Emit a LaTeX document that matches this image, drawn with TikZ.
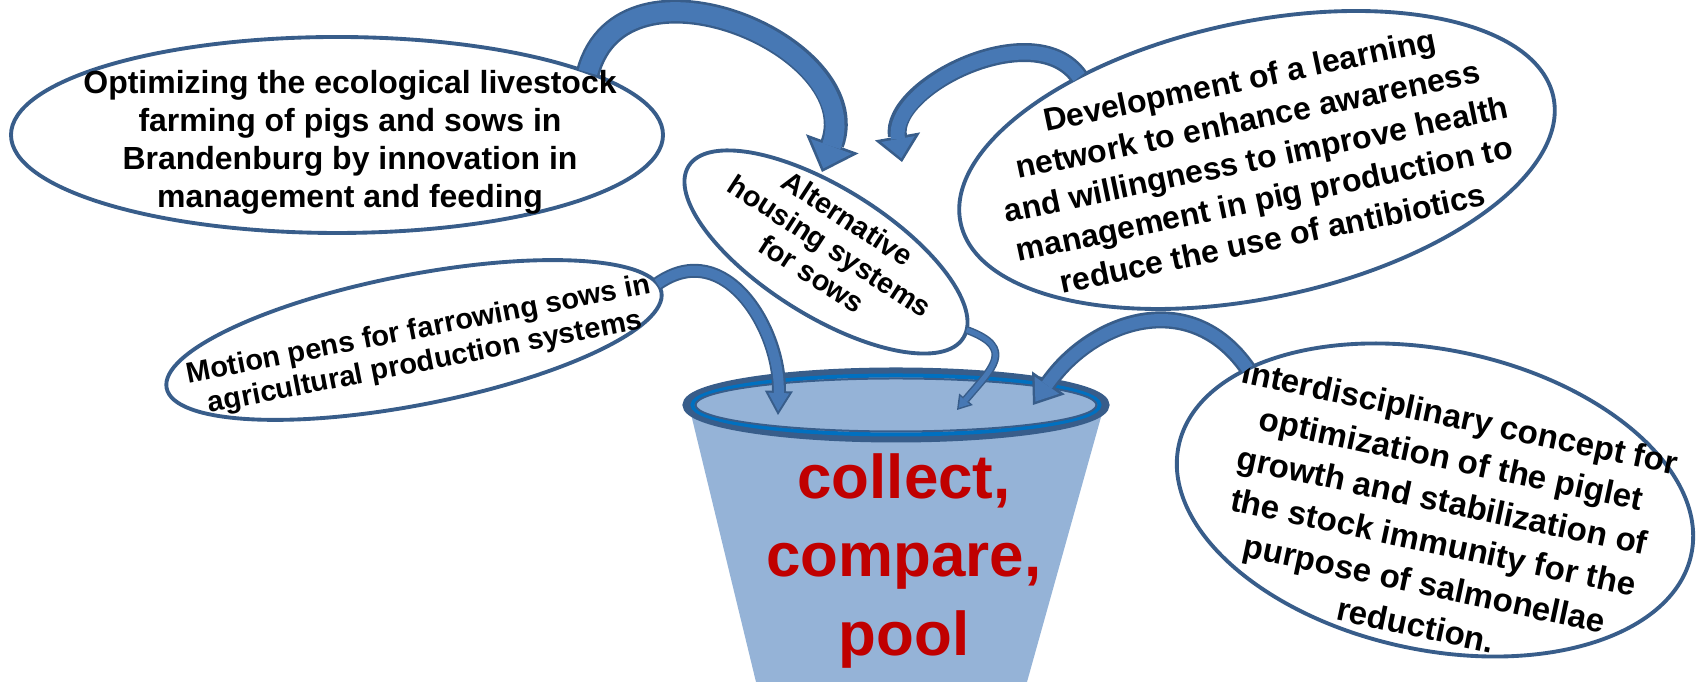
\documentclass[tikz,border=0pt]{standalone}
\usepackage{fontspec}
\setmainfont{Liberation Sans}
\usepackage{xcolor}
\usepackage{tikz}
\usetikzlibrary{shapes.geometric, arrows.meta}

\definecolor{lineblue}{HTML}{385D8A}
\definecolor{flowblue}{HTML}{4778B4}
\definecolor{bucketblue}{HTML}{95B3D7}
\definecolor{rimblue}{HTML}{0070C0}
\definecolor{poolred}{HTML}{C00000}

\tikzset{
  bubble/.style={ellipse, draw=lineblue, line width=1.1pt, fill=white, inner sep=0pt, outer sep=0pt},
  bubbletext/.style 2 args={align=center, inner sep=0pt, font=\bfseries\fontsize{#1}{#2}\selectfont},
  flowout/.style n args={3}{draw=lineblue, line width=#1, shorten >=0pt, -{Triangle[width=#2, length=#3, line width=0pt]}},
  flowin/.style n args={3}{draw=flowblue, line width=#1, shorten >=0.38mm, -{Triangle[width=#2, length=#3, line width=0pt]}}
}

\begin{document}
\begin{tikzpicture}
  \useasboundingbox (0,0) rectangle (16.96,6.82);

  % bucket
  \fill[bucketblue] (6.90,2.72) -- (11.03,2.72) -- (10.27,0) -- (7.56,0) -- cycle;
  \draw[lineblue, line width=0.08cm, fill=bucketblue] (8.96,2.77) ellipse (2.095 and 0.335);
  \draw[rimblue, line width=0.04cm] (8.96,2.77) ellipse (2.035 and 0.295);
  \draw[lineblue, line width=0.02cm] (8.96,2.77) ellipse (2.005 and 0.265);
  \node[text=poolred, align=center, inner sep=0pt, font=\bfseries\fontsize{17.6}{22.2}\selectfont] (pool) at (9.04,1.21) {collect,\\compare,\\pool};

  % bubbles
  \node[bubble, minimum width=6.52cm, minimum height=1.96cm] (optA) at (3.37,5.47) {};
  \node[bubbletext={9.1}{10.8}] (optAtext) at (3.50,5.40) {Optimizing the ecological livestock\\farming of pigs and sows in\\Brandenburg by innovation in\\management and feeding};

  \node[bubble, minimum width=3.24cm, minimum height=1.28cm, rotate=-32] (optB) at (8.26,4.30) {};
  \node[bubbletext={8.2}{9.4}, rotate=-33] (optBtext) at (8.30,4.36) {Alternative\\housing systems\\for sows};

  \node[bubble, minimum width=6.06cm, minimum height=2.76cm, rotate=12] (optC) at (12.57,5.22) {};
  \node[bubbletext={9.1}{11.5}, rotate=11.8] (optCtext) at (12.56,5.23) {Development of a learning\\network to enhance awareness\\and willingness to improve health\\management in pig production to\\reduce the use of antibiotics};

  \node[bubble, minimum width=5.04cm, minimum height=1.30cm, rotate=11] (optD) at (4.14,3.42) {};
  \node[bubbletext={8.25}{9.4}, rotate=11] (optDtext) at (4.22,3.35) {Motion pens for farrowing sows in\\agricultural production systems};

  \node[bubble, minimum width=5.24cm, minimum height=3.0cm, rotate=-12] (optE) at (14.35,1.82) {};
  \node[bubbletext={9.4}{12.1}, rotate=-12] (optEtext) at (14.38,1.61) {Interdisciplinary concept for\\optimization of the piglet\\growth and stabilization of\\the stock immunity for the\\purpose of salmonellae\\reduction.};

  % arrow tips
  \coordinate (tipA) at (8.22,5.10);
  \coordinate (tipC) at (9.02,5.20);
  \coordinate (tipD) at (7.78,2.67);
  \coordinate (tipB) at (9.57,2.72);
  \coordinate (tipE) at (10.33,2.77);

  % curved arrows
  \draw[flowin={1.9mm}{4.35mm}{2.35mm}, preaction={flowout={2.4mm}{5.6mm}{3.0mm}}] (optA.14) to[out=75, in=70, looseness=1.35] (tipA);
  \draw[flowin={1.4mm}{3.4mm}{1.95mm}, preaction={flowout={1.9mm}{4.6mm}{2.6mm}}] (optC.143) to[out=125, in=100, looseness=1.0] (tipC);
  \draw[flowin={1.0mm}{2.1mm}{1.8mm}, preaction={flowout={1.4mm}{2.8mm}{2.4mm}}, shorten >=0.4mm] (optD.2) to[out=35, in=88, looseness=1.2] (tipD);
  \draw[flowin={0.5mm}{1.25mm}{0.97mm}, preaction={flowout={0.8mm}{1.8mm}{1.4mm}}, shorten >=0.28mm] (optB.3) to[out=-20, in=50, looseness=1.7] (tipB);
  \draw[flowin={1.2mm}{3.0mm}{2.0mm}, preaction={flowout={1.7mm}{4.0mm}{2.7mm}}, shorten >=0.42mm] (optE.157) to[out=125, in=55, looseness=1.2] (tipE);
\end{tikzpicture}
\end{document}
